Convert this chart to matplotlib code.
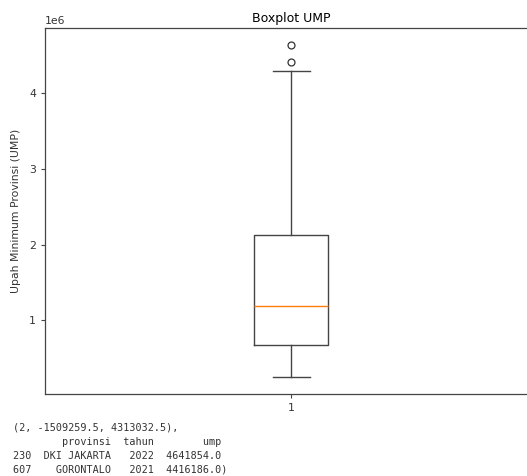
import matplotlib
matplotlib.use("Agg")
import matplotlib.pyplot as plt

# boxplot stats (UMP, rupiah)
q1 = 674100.0
q3 = 2129673.0
median = 1185000.0
whisker_low = 247000.0
whisker_high = 4290000.0
outliers = [4641854.0, 4416186.0]

# printed output under the chart
output_lines = [
    "(2, -1509259.5, 4313032.5),",
    "        provinsi  tahun        ump",
    "230  DKI JAKARTA   2022  4641854.0",
    "607    GORONTALO   2021  4416186.0)",
]

W, H = 527, 476
fig = plt.figure(figsize=(W / 100, H / 100), dpi=100)
ax = fig.add_axes([45 / W, (H - 394) / H, 492 / W, 366 / H])

stats = [{
    "med": median, "q1": q1, "q3": q3,
    "whislo": whisker_low, "whishi": whisker_high,
    "fliers": outliers,
}]
line = dict(color="#444444", linewidth=1.0)
ax.bxp(stats, positions=[1], widths=0.5,
       boxprops=line, whiskerprops=line, capprops=line,
       medianprops=dict(color="#ff7f0e", linewidth=1.0),
       flierprops=dict(marker="o", markerfacecolor="none",
                       markeredgecolor="#333333", markersize=5, markeredgewidth=0.9))

# the axes run past the right edge of the picture (cropped screenshot)
ax.set_xlim(1 - 246 / 148, 1 + 246 / 148)
span = max(outliers) - whisker_low
ax.set_ylim(whisker_low - 0.05 * span, max(outliers) + 0.05 * span)
ax.set_title("Boxplot UMP", fontsize=9, pad=4)
ax.set_ylabel("Upah Minimum Provinsi (UMP)", fontsize=7.8, labelpad=6, color="#333333")
ax.tick_params(labelsize=7.8, length=3, width=0.8, color="#444444", labelcolor="#333333")
ax.yaxis.get_offset_text().set_fontsize(7.8)
ax.yaxis.get_offset_text().set_color("#333333")
for s in ax.spines.values():
    s.set_color("#444444")
    s.set_linewidth(0.9)

for i, txt in enumerate(output_lines):
    fig.text(13 / W, 1 - (428 + 14 * i) / H, txt, family="DejaVu Sans Mono",
             fontsize=7.3, va="center", ha="left", color="#333333")

fig.savefig("out.png", dpi=100)
